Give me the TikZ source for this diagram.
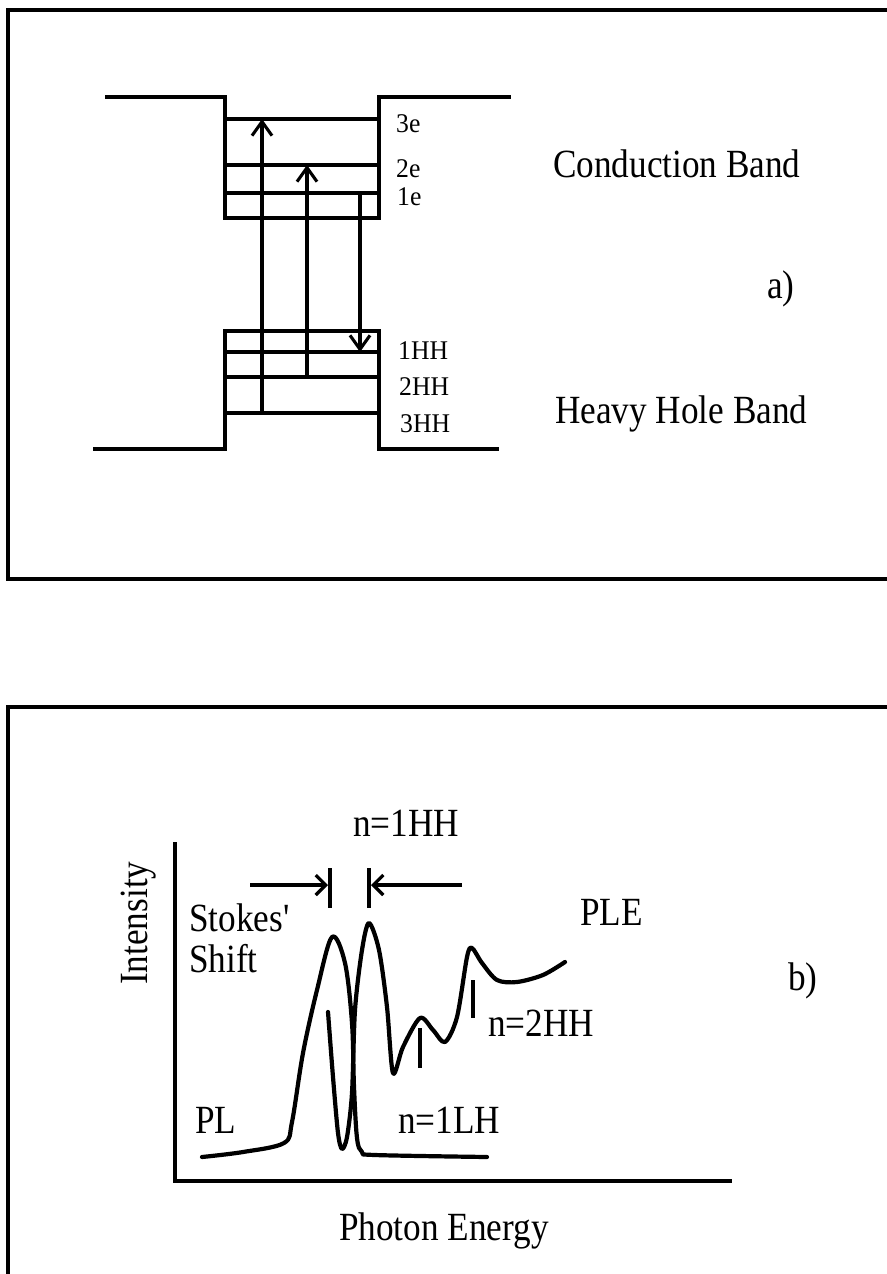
\documentclass[tikz,border=0pt]{standalone}
\usepackage{fontspec}
\setmainfont{Liberation Serif}
\usetikzlibrary{arrows.meta}
\newcommand\narrowtxt[1]{\scalebox{0.88}[1]{#1}}
\newcommand\smalltxt[1]{\scalebox{0.95}[1]{#1}}
\tikzset{
  frame/.style={line width=3.8pt},
  well/.style={line width=3.1pt, line join=miter},
  lvl/.style={line width=3.1pt},
  trans/.style={line width=3.1pt, -{Straight Barb[length=14pt,width=20pt,line width=3.1pt]}},
  curve/.style={line width=4.2pt, line cap=round, line join=round},
  axis/.style={line width=3.2pt},
  shiftarr/.style={line width=3.2pt, -{Straight Barb[length=10pt,width=20pt,line width=3.2pt]}},
  bar/.style={line width=3.4pt},
  big/.style={font=\fontsize{40}{44}\selectfont, inner sep=0pt, anchor=base west},
  small/.style={font=\fontsize{27}{30}\selectfont, inner sep=0pt, anchor=base west},
}
\begin{document}
\begin{tikzpicture}[x=1pt, y=-1pt]
\useasboundingbox (0,0) rectangle (886,1274);
\fill[white] (0,0) rectangle (886,1274);

% ---------- panel a) ----------
\draw[frame] (892,10) -- (8,10) -- (8,579) -- (892,579);

% conduction band well
\draw[well] (105,97) -- (225,97) -- (225,218) -- (379,218) -- (379,97) -- (511,97);
\coordinate (e3L) at (225,119); \coordinate (e3R) at (379,119);
\coordinate (e2L) at (225,165); \coordinate (e2R) at (379,165);
\coordinate (e1L) at (225,193); \coordinate (e1R) at (379,193);
\draw[lvl] (e3L) -- (e3R);
\draw[lvl] (e2L) -- (e2R);
\draw[lvl] (e1L) -- (e1R);

% heavy hole band well
\draw[well] (93,449) -- (225,449) -- (225,331) -- (379,331) -- (379,449) -- (499,449);
\coordinate (h1L) at (225,352); \coordinate (h1R) at (379,352);
\coordinate (h2L) at (225,377); \coordinate (h2R) at (379,377);
\coordinate (h3L) at (225,413); \coordinate (h3R) at (379,413);
\draw[lvl] (h1L) -- (h1R);
\draw[lvl] (h2L) -- (h2R);
\draw[lvl] (h3L) -- (h3R);

% transitions
\coordinate (t1a) at (262,413); \coordinate (t1b) at (262,119);
\coordinate (t2a) at (307,377); \coordinate (t2b) at (307,165);
\coordinate (t3a) at (360,193); \coordinate (t3b) at (360,352);
\draw[trans] (t1a) -- (t1b);
\draw[trans] (t2a) -- (t2b);
\draw[trans] (t3a) -- (t3b);

% level labels
\node[small] (l3e) at (396,132) {\smalltxt{3e}};
\node[small] (l2e) at (396,177) {\smalltxt{2e}};
\node[small] (l1e) at (397,205) {\smalltxt{1e}};
\node[small] (l1h) at (398,359) {\smalltxt{1HH}};
\node[small] (l2h) at (399,395) {\smalltxt{2HH}};
\node[small] (l3h) at (400,432) {\smalltxt{3HH}};

\node[big] (cb) at (553,177) {\narrowtxt{Conduction Band}};
\node[big] (pa) at (767,298) {\narrowtxt{a)}};
\node[big] (hhb) at (555,423) {\narrowtxt{Heavy Hole Band}};

% ---------- panel b) ----------
\draw[frame] (892,707) -- (8,707) -- (8,1280);

% axes
\coordinate (ytop) at (175,842);
\coordinate (orig) at (175,1181);
\coordinate (xend) at (732,1181);
\draw[axis] (ytop) -- (orig) -- (xend);

% PL curve
\draw[curve] plot[smooth, tension=0.55] coordinates {
 (202,1157) (243,1152) (284,1143) (292,1122) (303,1053) (317,990) (332,937)
 (345,963) (352,1023) (354,1087) (357,1138) (362,1152) (375,1155) (487,1157)};

% PLE curve
\draw[curve] plot[smooth, tension=0.5] coordinates {
 (328,1012) (333,1077) (338,1133) (342,1149) (347,1137) (352,1093) (355,1010)
 (362,950) (369,923) (379,950) (387,1007) (393,1073) (403,1047) (420,1018)
 (433,1030) (445,1042) (457,1017) (467,957) (472,948) (482,963) (497,980)
 (517,982) (543,975) (565,962)};

% transition ticks
\coordinate (tk1a) at (420,1028); \coordinate (tk1b) at (420,1068);
\coordinate (tk2a) at (473,980); \coordinate (tk2b) at (473,1018);
\draw[bar] (tk1a) -- (tk1b);
\draw[bar] (tk2a) -- (tk2b);

% Stokes shift markers
\coordinate (sL0) at (250,885); \coordinate (sL1) at (328,885);
\coordinate (sR0) at (462,885); \coordinate (sR1) at (371,885);
\coordinate (bL0) at (330,868); \coordinate (bL1) at (330,908);
\coordinate (bR0) at (369,868); \coordinate (bR1) at (369,908);
\draw[shiftarr] (sL0) -- (sL1);
\draw[shiftarr] (sR0) -- (sR1);
\draw[bar] (bL0) -- (bL1);
\draw[bar] (bR0) -- (bR1);

% labels
\node[big] (n1hh) at (353,836) {\narrowtxt{n=1HH}};
\node[big] (stk) at (189,931) {\narrowtxt{Stokes\textquotesingle}};
\node[big] (shf) at (189,972) {\narrowtxt{Shift}};
\node[big] (ple) at (580,925) {\narrowtxt{PLE}};
\node[big] (pb) at (788,990) {\narrowtxt{b)}};
\node[big] (n2hh) at (488,1036) {\narrowtxt{n=2HH}};
\node[big] (pl) at (195,1133) {\narrowtxt{PL}};
\node[big] (n1lh) at (398,1133) {\narrowtxt{n=1LH}};
\node[big] (pe) at (339,1240) {\narrowtxt{Photon Energy}};
\node[big, rotate=90] (int) at (147,985) {\narrowtxt{Intensity}};
\end{tikzpicture}
\end{document}
